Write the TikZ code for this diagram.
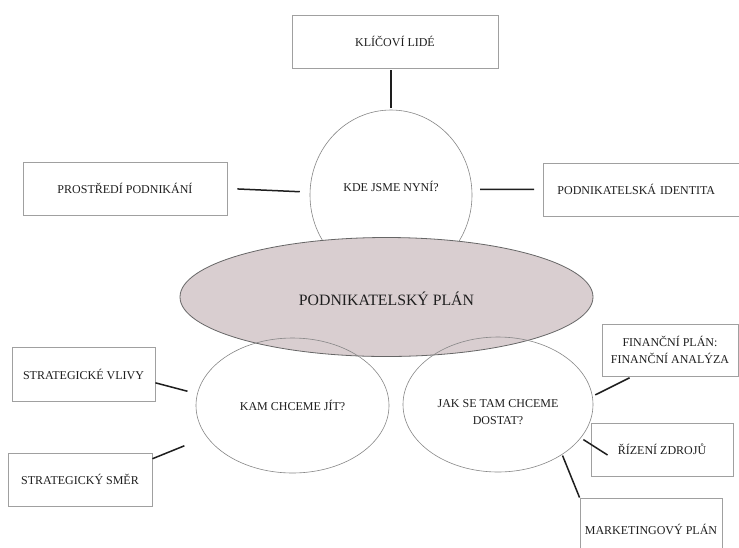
\documentclass[tikz,border=0pt]{standalone}
\usepackage{fontspec}
\setmainfont{Liberation Serif}
\usepackage{tikz}
\usetikzlibrary{shapes.geometric}
\definecolor{planfill}{RGB}{217,206,208}
\definecolor{boxline}{RGB}{160,160,160}
\definecolor{ovalline}{RGB}{135,135,135}
\definecolor{inktext}{RGB}{30,30,30}

\begin{document}
\begin{tikzpicture}[x=1pt, y=-1pt,
    every node/.style={text=inktext, font=\fontsize{12}{17}\selectfont},
    box/.style={draw=boxline, line width=0.9pt, rectangle, inner sep=0pt, align=center},
    oval/.style={draw=ovalline, line width=0.6pt, ellipse, inner sep=0pt, align=center},
    link/.style={draw=inktext, line width=1.5pt}]
\useasboundingbox [fill=white] (0,0) rectangle (739,547);
\node [box, minimum width=206pt, minimum height=53pt] (klicovi) at (395,41.5) {KLÍČOVÍ LIDÉ};
\node [oval, minimum width=162pt, minimum height=170pt, text depth=18pt] (kde) at (391,195) {KDE JSME NYNÍ?};
\node [box, minimum width=204pt, minimum height=53pt] (prostredi) at (125,188.5) {PROSTŘEDÍ PODNIKÁNÍ};
\node [box, anchor=west, minimum height=53pt, text width=200pt, inner xsep=14pt, align=left] (identita) at (543,189.5) {PODNIKATELSKÁ IDENTITA};
\node [oval, draw=black!60, line width=0.8pt, fill=planfill, minimum width=413pt, minimum height=119pt, text height=17pt, text depth=0pt, font=\fontsize{15.8}{18}\selectfont] (plan) at (386.5,297) {PODNIKATELSKÝ PLÁN};
\node [oval, minimum width=193pt, minimum height=135pt] (kam) at (292.5,405.5) {KAM CHCEME JÍT?};
\node [oval, minimum width=190pt, minimum height=135pt, text height=42pt, text depth=3pt] (jak) at (498,404.5) {JAK SE TAM CHCEME\\DOSTAT?};
\node [box, minimum width=143pt, minimum height=54pt] (vlivy) at (83.5,374) {STRATEGICKÉ VLIVY};
\node [box, minimum width=144pt, minimum height=53pt] (smer) at (80,479.5) {STRATEGICKÝ SMĚR};
\node [box, minimum width=136pt, minimum height=52pt] (financni) at (670,350) {FINANČNÍ PLÁN:\\FINANČNÍ ANALÝZA};
\node [box, minimum width=142pt, minimum height=53pt] (rizeni) at (662,449.5) {ŘÍZENÍ ZDROJŮ};
\node [box, minimum width=142pt, minimum height=62pt] (marketing) at (651,529) {MARKETINGOVÝ PLÁN};
\draw [link, shorten <=2pt, shorten >=2pt] (kde.north |- klicovi.south) -- (kde.north);
\draw [link, shorten <=10pt, shorten >=10pt] (prostredi.east) -- (kde.178);
\draw [link, shorten <=8pt, shorten >=9pt] (kde.4) -- (identita.west);
\draw [link, shorten >=10pt] (vlivy.-7) -- (kam.173);
\draw [link, shorten >=24pt] (smer.16) -- (kam.200);
\draw [link, shorten <=3pt, shorten >=3pt] (jak.5) -- (financni.215);
\draw [link, shorten <=3pt] (jak.-22) -- ([xshift=17pt, yshift=-5.5pt]rizeni.west);
\draw [link, shorten <=1pt] (jak.-38) -- (marketing.north west);
\end{tikzpicture}
\end{document}
